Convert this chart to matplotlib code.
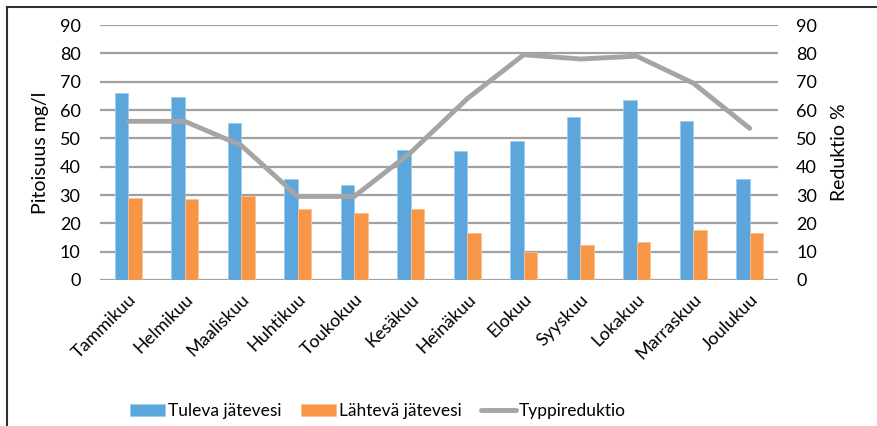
import matplotlib.pyplot as plt
import numpy as np

plt.rcParams['font.family'] = ['Lato', 'DejaVu Sans']

months = ['Tammikuu', 'Helmikuu', 'Maaliskuu', 'Huhtikuu', 'Toukokuu', 'Kesäkuu',
          'Heinäkuu', 'Elokuu', 'Syyskuu', 'Lokakuu', 'Marraskuu', 'Joulukuu']
tuleva = [66, 64.5, 55.5, 35.5, 33.5, 46, 45.5, 49, 57.5, 63.5, 56, 35.5]
lahteva = [29, 28.5, 29.5, 25, 23.5, 25, 16.5, 10, 12.5, 13.5, 17.5, 16.5]
reduktio = [56, 56, 47.5, 29.5, 29.5, 45, 64, 79.5, 78, 79, 69.5, 53.5]

blue = '#5DA6DB'
orange = '#F79646'
grey = '#A5A5A5'

fig = plt.figure(figsize=(8.77, 4.26), dpi=100)
ax = fig.add_axes([100 / 877, 1 - 280 / 426, 678 / 877, 255 / 426])
ax2 = ax.twinx()

x = np.arange(len(months))
w = 0.235
ax.bar(x - w / 2, tuleva, w, color=blue, edgecolor='#9CCBEB', linewidth=0.6,
       label='Tuleva jätevesi', zorder=3)
ax.bar(x + w / 2, lahteva, w, color=orange, edgecolor='#FAC08F', linewidth=0.6,
       label='Lähtevä jätevesi', zorder=3)
ax2.plot(x, reduktio, color=grey, lw=3.5, solid_capstyle='round',
         solid_joinstyle='round', label='Typpireduktio')

for a in (ax, ax2):
    a.set_ylim(0, 90)
    a.set_yticks(range(0, 91, 10))
    a.tick_params(length=0, labelsize=13)
    for s in a.spines.values():
        s.set_visible(False)
ax.tick_params(axis='y', pad=14)
ax2.tick_params(axis='y', pad=13)
ax.set_xlim(-0.5, 11.5)
ax.grid(axis='y', color='#A0A0A0', lw=1.6, zorder=0)
ax.set_axisbelow(True)

ax.set_xticks(x)
ax.set_xticklabels(months, rotation=45, ha='right', rotation_mode='anchor', fontsize=13)
ax.tick_params(axis='x', pad=8)

ax.set_ylabel('Pitoisuus mg/l', fontsize=14, labelpad=8)
ax2.set_ylabel('Reduktio %', fontsize=14, labelpad=10)

h1, l1 = ax.get_legend_handles_labels()
h2, l2 = ax2.get_legend_handles_labels()
fig.legend(h1 + h2, l1 + l2, loc='center', bbox_to_anchor=(378 / 877, 1 - 411 / 426),
           ncol=3, frameon=False, fontsize=12.5, handlelength=2.0, handleheight=0.7,
           columnspacing=1.1, handletextpad=0.2)

# outer frame, left and top edges only
fig.add_artist(plt.Line2D([7 / 877, 7 / 877], [0, 1 - 7 / 426], color='#303030',
                          lw=1.5, transform=fig.transFigure))
fig.add_artist(plt.Line2D([7 / 877, 1], [1 - 7 / 426, 1 - 7 / 426], color='#303030',
                          lw=1.5, transform=fig.transFigure))

fig.savefig('out.png', dpi=100)
